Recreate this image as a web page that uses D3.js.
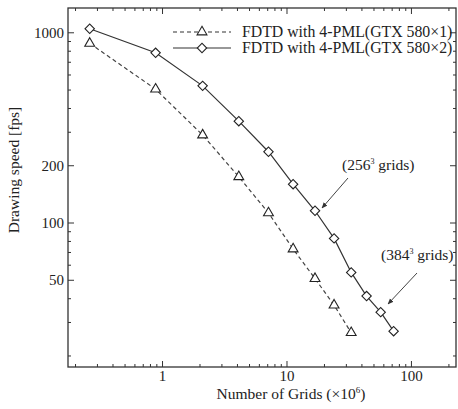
<!DOCTYPE html>
<html>
<head>
<meta charset="utf-8">
<script src="https://cdn.jsdelivr.net/npm/d3@7"></script>
<style>
  body { margin: 0; background: #fff; }
  text { font-family: "Liberation Serif", "Times New Roman", serif; fill: #222; }
</style>
</head>
<body>
<div id="viz"></div>
<script>
// grid counts (x10^6) and drawing speed (fps)
const gridsOne = [0.26, 0.88, 2.1, 4.1, 7.1, 11.2, 16.8, 23.9, 32.8];
const fpsOne = [880, 505, 290, 175, 113, 73, 51, 37, 26.5];
const gridsTwo = [0.26, 0.88, 2.1, 4.1, 7.1, 11.2, 16.8, 23.9, 32.8, 43.6, 56.6, 71.9];
const fpsTwo = [1050, 785, 526, 343, 237, 160, 116, 83, 55, 41.3, 34, 27];

const xMajor = [1, 10, 100];
const xMinor = [0.2, 0.3, 0.4, 0.5, 0.6, 0.7, 0.8, 0.9, 2, 3, 4, 5, 6, 7, 8, 9, 20, 30, 40, 50, 60, 70, 80, 90, 200];
const yLabels = [50, 100, 200, 1000];
const yMinor = [20, 30, 40, 60, 70, 80, 90, 300, 400, 500, 600, 700, 800, 900];

const seriesNames = ["FDTD with 4-PML(GTX 580\u00d71)", "FDTD with 4-PML(GTX 580\u00d72)"];

const width = 458, height = 409;
const plotL = 68, plotR = 456, plotT = 8, plotB = 367;

const svg = d3.select("#viz").append("svg")
    .attr("width", width)
    .attr("height", height);

const x = d3.scaleLog().domain([0.174, 228]).range([plotL, plotR]);
const y = d3.scaleLog().domain([17.5, 1350]).range([plotB, plotT]);

// frame
svg.append("rect")
    .attr("x", plotL).attr("y", plotT)
    .attr("width", plotR - plotL).attr("height", plotB - plotT)
    .attr("fill", "none").attr("stroke", "#333").attr("stroke-width", 1.3);

// inward ticks on all four sides
const tickG = svg.append("g").attr("stroke", "#333").attr("stroke-width", 1);
function xTicks(vals, len) {
    tickG.selectAll(null).data(vals).enter().append("line")
        .attr("x1", d => x(d)).attr("x2", d => x(d))
        .attr("y1", plotB).attr("y2", plotB - len);
    tickG.selectAll(null).data(vals).enter().append("line")
        .attr("x1", d => x(d)).attr("x2", d => x(d))
        .attr("y1", plotT).attr("y2", plotT + len);
}
function yTicks(vals, len) {
    tickG.selectAll(null).data(vals).enter().append("line")
        .attr("y1", d => y(d)).attr("y2", d => y(d))
        .attr("x1", plotL).attr("x2", plotL + len);
    tickG.selectAll(null).data(vals).enter().append("line")
        .attr("y1", d => y(d)).attr("y2", d => y(d))
        .attr("x1", plotR).attr("x2", plotR - len);
}
xTicks(xMajor, 6);
xTicks(xMinor, 3);
yTicks(yLabels, 6);
yTicks(yMinor, 3);

svg.selectAll(".xl").data(xMajor).enter().append("text")
    .attr("x", d => x(d)).attr("y", plotB + 14)
    .attr("text-anchor", "middle").style("font-size", "15px")
    .text(d => d);

svg.selectAll(".yl").data(yLabels).enter().append("text")
    .attr("x", plotL - 4).attr("y", d => y(d) + 5)
    .attr("text-anchor", "end").style("font-size", "15px")
    .text(d => d);

// axis titles
const xt = svg.append("text")
    .attr("x", 291).attr("y", 399)
    .attr("text-anchor", "middle").style("font-size", "15.5px");
xt.append("tspan").text("Number of Grids (\u00d710");
xt.append("tspan").attr("dy", -6).style("font-size", "9px").text("6");
xt.append("tspan").attr("dy", 6).text(")");

svg.append("text")
    .attr("transform", "translate(19,170) rotate(-90)")
    .attr("text-anchor", "middle").style("font-size", "15.5px")
    .text("Drawing speed [fps]");

// lines
const line = d3.line().x(d => x(d[0])).y(d => y(d[1]));
const dataOne = d3.zip(gridsOne, fpsOne);
const dataTwo = d3.zip(gridsTwo, fpsTwo);

svg.append("path").datum(dataOne).attr("d", line)
    .attr("fill", "none").attr("stroke", "#444").attr("stroke-width", 1.2)
    .attr("stroke-dasharray", "4,3");
svg.append("path").datum(dataTwo).attr("d", line)
    .attr("fill", "none").attr("stroke", "#333").attr("stroke-width", 1.2);

const tri = d3.symbol().type(d3.symbolTriangle).size(42);
const dia = d3.symbol().type(d3.symbolSquare).size(44);

svg.selectAll(".tri").data(dataOne).enter().append("path")
    .attr("d", tri)
    .attr("transform", d => `translate(${x(d[0])},${y(d[1])})`)
    .attr("fill", "#fff").attr("stroke", "#222").attr("stroke-width", 1.1);
svg.selectAll(".dia").data(dataTwo).enter().append("path")
    .attr("d", dia)
    .attr("transform", d => `translate(${x(d[0])},${y(d[1])}) rotate(45)`)
    .attr("fill", "#fff").attr("stroke", "#222").attr("stroke-width", 1.1);

// legend
const legend = svg.append("g");
[0, 1].forEach(i => {
    const ly = 32 + i * 16;
    legend.append("line")
        .attr("x1", 173).attr("x2", 231).attr("y1", ly).attr("y2", ly)
        .attr("stroke", "#333").attr("stroke-width", 1.2)
        .attr("stroke-dasharray", i === 0 ? "4,3" : null);
    legend.append("path")
        .attr("d", i === 0 ? tri : dia)
        .attr("transform", `translate(202,${ly})` + (i === 0 ? "" : " rotate(45)"))
        .attr("fill", "#fff").attr("stroke", "#222").attr("stroke-width", 1.1);
    legend.append("text")
        .attr("x", 242).attr("y", ly + 5)
        .style("font-size", "15.8px")
        .text(seriesNames[i]);
});

// annotations
svg.append("defs").append("marker")
    .attr("id", "arrow").attr("viewBox", "0 0 10 10")
    .attr("refX", 9).attr("refY", 5)
    .attr("markerWidth", 6).attr("markerHeight", 6)
    .attr("orient", "auto")
    .append("path").attr("d", "M0,1 L10,5 L0,9 Z").attr("fill", "#333");

const notes = [
    { label: "256", tx: 342, ty: 170, from: [348, 178], to: [322, 208] },
    { label: "384", tx: 381, ty: 260, from: [417, 273], to: [388, 304] }
];
notes.forEach(n => {
    const t = svg.append("text").attr("x", n.tx).attr("y", n.ty).style("font-size", "15.5px");
    t.append("tspan").text("(" + n.label);
    t.append("tspan").attr("dy", -6).style("font-size", "8px").text("3");
    t.append("tspan").attr("dy", 6).text(" grids)");
    svg.append("line")
        .attr("x1", n.from[0]).attr("y1", n.from[1])
        .attr("x2", n.to[0]).attr("y2", n.to[1])
        .attr("stroke", "#444").attr("stroke-width", 1)
        .attr("marker-end", "url(#arrow)");
});
</script>
</body>
</html>
